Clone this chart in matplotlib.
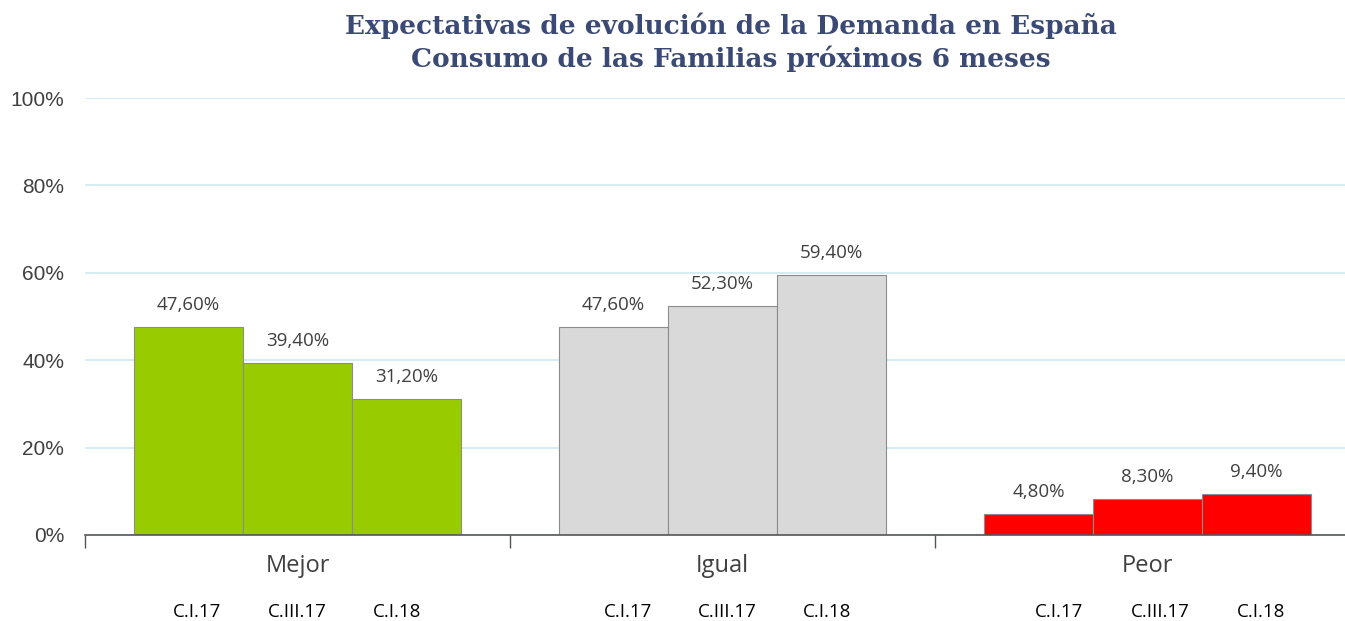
import numpy as np
import matplotlib.pyplot as plt

# Expectativas de demanda - consumo de las familias

categories = ["Mejor", "Igual", "Peor"]
periods = ["C.I.17", "C.III.17", "C.I.18"]
values = {
    "Mejor": [47.6, 39.4, 31.2],
    "Igual": [47.6, 52.3, 59.4],
    "Peor": [4.8, 8.3, 9.4],
}
colors = {"Mejor": "#99CC00", "Igual": "#D9D9D9", "Peor": "#FF0000"}
yticks = [0, 20, 40, 60, 80, 100]


def fmt_pct(v):
    return f"{v:.2f}".replace(".", ",") + "%"


fig = plt.figure(figsize=(13.45, 6.21), dpi=100)
ax = fig.add_axes([85/1345, 86/621, 1275/1345, 437/621])

width = 0.2565
x = np.arange(len(categories))
label_shift = {"Mejor": [-0.237, 0.0, 0.235],
               "Igual": [-0.223, 0.012, 0.247],
               "Peor": [-0.207, 0.031, 0.268]}

for i, cat in enumerate(categories):
    for j, v in enumerate(values[cat]):
        xpos = x[i] + (j - 1) * width
        ax.bar(xpos, v, width=width, color=colors[cat], edgecolor="#8C8C8C",
               linewidth=0.8, zorder=3)
        ax.text(xpos, v + 3.0, fmt_pct(v), ha="center", va="bottom",
                fontsize=13.5, color="#404040", family="Open Sans")
        ax.text(x[i] + label_shift[cat][j], -0.177, periods[j],
                transform=ax.get_xaxis_transform(), ha="center", va="center",
                fontsize=13.5, color="black", family="Open Sans")

ax.set_xlim(-0.5, 2.5)
ax.set_ylim(0, 100)
ax.set_yticks(yticks)
ax.set_yticklabels([f"{t}%" for t in yticks], family="Liberation Sans",
                   fontsize=15, color="#404040")
ax.tick_params(axis="y", length=0, pad=15)

ax.set_xticks([-0.5, 0.5, 1.5])
ax.set_xticklabels([])
ax.tick_params(axis="x", length=9, width=1, color="#555555", direction="out")
ax.set_xticks(x, minor=True)
ax.set_xticklabels(categories, minor=True, fontsize=17, color="#404040",
                   family="Open Sans")
ax.tick_params(axis="x", which="minor", length=0, pad=14)

ax.grid(axis="y", color="#D5ECF4", linewidth=1.5, zorder=0)
for s in ["top", "right", "left"]:
    ax.spines[s].set_visible(False)
ax.spines["bottom"].set_color("#555555")
ax.spines["bottom"].set_linewidth(1.2)
ax.spines["bottom"].set_zorder(4)

fig.text(0.5435, 0.958, "Expectativas de evolución de la Demanda en España",
         ha="center", va="center", fontsize=19, fontweight="bold",
         color="#3B4A74", family="DejaVu Serif")
fig.text(0.5435, 0.905, "Consumo de las Familias próximos 6 meses",
         ha="center", va="center", fontsize=19, fontweight="bold",
         color="#3B4A74", family="DejaVu Serif")

fig.savefig("out.png", dpi=100)
